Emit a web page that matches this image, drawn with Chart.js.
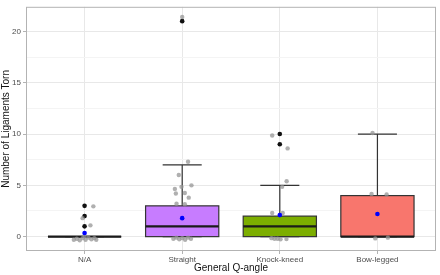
<!DOCTYPE html>
<html>
<head>
<meta charset="utf-8">
<script src="https://cdn.jsdelivr.net/npm/chart.js@4.4.1/dist/chart.umd.min.js"></script>
<style>
  html, body { margin: 0; padding: 0; background: #fff; }
  #wrap { width: 440px; height: 275px; }
</style>
</head>
<body>
<div id="wrap"><canvas id="chart" width="440" height="275"></canvas></div>
<script>
// categories and box statistics
const categories = ["N/A", "Straight", "Knock-kneed", "Bow-legged"];
const q1 = [0, 0, 0, 0];
const medians = [0, 1, 1, 0];
const q3 = [0, 3, 2, 4];
const whiskerLow = [0, 0, 0, 0];
const whiskerHigh = [0, 7, 5, 10];
const means = [0.35, 1.8, 2.1, 2.2];
const outliers = [[1, 2, 3], [21], [9, 10], []];

// jittered raw points: offset from category centre, and value
const jitterOffsets = [
    [0.09, -0.02, 0.06, -0.11, -0.08, -0.05, -0.02, 0.01, 0.04, 0.07, 0.10, 0.12, 0.0],
    [0.0, 0.06, -0.035, -0.007, 0.095, -0.075, -0.065, 0.027, 0.067, -0.058, 0.027, -0.09, -0.06, -0.03, 0.0, 0.03, 0.06, 0.09],
    [-0.078, 0.08, 0.07, 0.024, -0.078, 0.03, -0.085, -0.054, -0.023, 0.007, 0.068],
    [-0.05, -0.06, 0.094, -0.022, 0.107]
];
const jitterValues = [
    [2.95, 1.8, 1.1, -0.3, -0.2, -0.35, -0.15, -0.3, -0.1, -0.25, -0.15, -0.3, 0.05],
    [21.4, 7.3, 6.0, 4.85, 5.0, 4.65, 4.2, 4.25, 3.8, 3.2, 3.15, -0.2, -0.1, -0.25, -0.15, -0.3, -0.1, -0.2],
    [9.85, 8.6, 5.4, 4.85, 2.3, 2.3, -0.15, -0.2, -0.2, -0.25, -0.24],
    [10.1, 4.15, 4.1, -0.17, -0.1]
];

const yTicks = [0, 5, 10, 15, 20];
const yMinorTicks = [2.5, 7.5, 12.5, 17.5];

// styles
const boxColors = ["#00BFC4", "#C77CFF", "#7CAE00", "#F8766D"];
const boxWidth = 0.75;
const capWidth = 0.4;
const FONT = "'Liberation Sans', Arial, sans-serif";

let jitterData = [];
let outlierData = [];
let meanData = [];
for (let i = 0; i < categories.length; i++) {
    for (let j = 0; j < jitterOffsets[i].length; j++)
        jitterData.push({ x: i + 1 + jitterOffsets[i][j], y: jitterValues[i][j] });
    for (let j = 0; j < outliers[i].length; j++)
        outlierData.push({ x: i + 1, y: outliers[i][j] });
    meanData.push({ x: i + 1, y: means[i] });
}

const boxPlugin = {
    id: "boxes",
    beforeDatasetsDraw(chart) {
        const ctx = chart.ctx;
        const xs = chart.scales.x, ys = chart.scales.y;
        ctx.save();
        for (let i = 0; i < categories.length; i++) {
            const c = i + 1;
            const xl = xs.getPixelForValue(c - boxWidth / 2);
            const xr = xs.getPixelForValue(c + boxWidth / 2);
            const xm = xs.getPixelForValue(c);
            const cl = xs.getPixelForValue(c - capWidth / 2);
            const cr = xs.getPixelForValue(c + capWidth / 2);
            const yq1 = ys.getPixelForValue(q1[i]);
            const yq3 = ys.getPixelForValue(q3[i]);
            const ymed = ys.getPixelForValue(medians[i]);
            const ylo = ys.getPixelForValue(whiskerLow[i]);
            const yhi = ys.getPixelForValue(whiskerHigh[i]);

            ctx.strokeStyle = "#333333";
            ctx.lineWidth = 1.2;
            // error bar caps
            ctx.beginPath();
            ctx.moveTo(cl, yhi); ctx.lineTo(cr, yhi);
            ctx.moveTo(cl, ylo); ctx.lineTo(cr, ylo);
            // whiskers
            ctx.moveTo(xm, yq3); ctx.lineTo(xm, yhi);
            ctx.moveTo(xm, yq1); ctx.lineTo(xm, ylo);
            ctx.stroke();

            // box
            ctx.fillStyle = boxColors[i];
            ctx.fillRect(xl, yq3, xr - xl, yq1 - yq3);
            ctx.strokeRect(xl, yq3, xr - xl, yq1 - yq3);

            // median
            ctx.lineWidth = 2.2;
            ctx.strokeStyle = "#1a1a1a";
            ctx.beginPath();
            ctx.moveTo(xl, ymed); ctx.lineTo(xr, ymed);
            ctx.stroke();
        }
        ctx.restore();
    },
    afterDraw(chart) {
        const a = chart.chartArea;
        const ctx = chart.ctx;
        ctx.save();
        ctx.strokeStyle = "#b3b3b3";
        ctx.lineWidth = 1;
        ctx.strokeRect(a.left + 0.5, a.top + 0.5, a.right - a.left - 1, a.bottom - a.top - 1);
        ctx.restore();
    }
};

const data = {
    datasets: [{
            label: "mean",
            data: meanData,
            backgroundColor: "#0000FF",
            borderColor: "#0000FF",
            pointRadius: 2.3,
            borderWidth: 0,
            order: 0
        }, {
            label: "points",
            data: jitterData,
            backgroundColor: "rgba(150,150,150,0.75)",
            borderColor: "rgba(150,150,150,0.75)",
            pointRadius: 2.2,
            borderWidth: 0,
            order: 1
        }, {
            label: "outliers",
            data: outlierData,
            backgroundColor: "#111111",
            borderColor: "#111111",
            pointRadius: 2.3,
            borderWidth: 0,
            order: 2
        }]
};

const config = {
    type: "scatter",
    data: data,
    plugins: [boxPlugin],
    options: {
        responsive: false,
        animation: false,
        layout: { padding: { top: 2, right: 3, left: 0, bottom: 0 } },
        plugins: { legend: { display: false }, tooltip: { enabled: false } },
        scales: {
            x: {
                type: "linear",
                min: 0.4,
                max: 4.6,
                afterBuildTicks(scale) {
                    scale.ticks = categories.map((c, i) => ({ value: i + 1 }));
                },
                afterFit(scale) { scale.height = 24; },
                ticks: {
                    autoSkip: false,
                    maxRotation: 0,
                    padding: 1,
                    color: "#4d4d4d",
                    font: { family: FONT, size: 8 },
                    callback: (v) => categories[Math.round(v) - 1]
                },
                grid: { color: "#e8e8e8", tickColor: "#b3b3b3", tickLength: 3 },
                border: { display: false },
                title: {
                    display: true,
                    text: "General Q-angle",
                    color: "#111",
                    font: { family: FONT, size: 10 },
                    padding: { top: 0, bottom: 0.5 }
                }
            },
            y: {
                type: "linear",
                min: -1.4,
                max: 22.4,
                afterBuildTicks(scale) {
                    scale.ticks = yTicks.concat(yMinorTicks).sort((a, b) => a - b).map(v => ({ value: v }));
                },
                afterFit(scale) { scale.width = 26; },
                ticks: {
                    autoSkip: false,
                    padding: 2,
                    color: "#4d4d4d",
                    font: { family: FONT, size: 8 },
                    callback: (v) => yTicks.includes(v) ? String(v) : ""
                },
                grid: {
                    color: (c) => yTicks.includes(c.tick && c.tick.value) ? "#e8e8e8" : "#f4f4f4",
                    tickColor: (c) => yTicks.includes(c.tick && c.tick.value) ? "#b3b3b3" : "rgba(0,0,0,0)",
                    tickLength: 3
                },
                border: { display: false },
                title: {
                    display: true,
                    text: "Number of Ligaments Torn",
                    color: "#111",
                    font: { family: FONT, size: 10 },
                    padding: 0
                }
            }
        }
    }
};

let ctx = document.getElementById("chart").getContext("2d");
new Chart(ctx, config);
</script>
</body>
</html>
